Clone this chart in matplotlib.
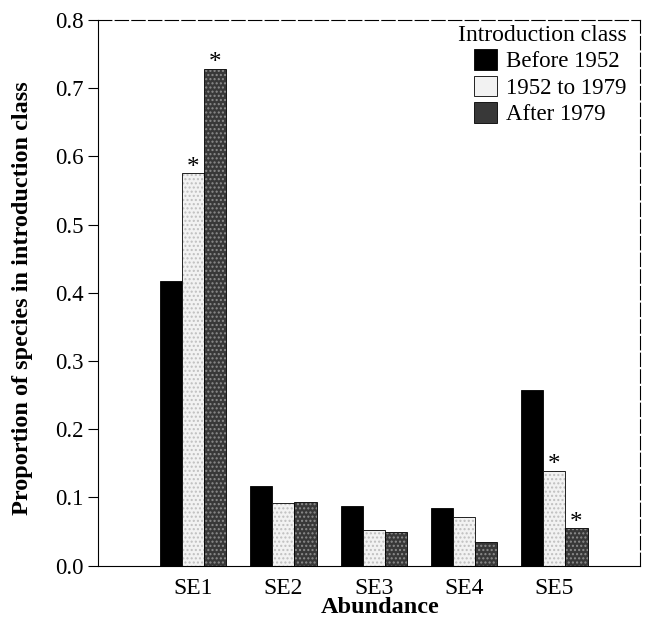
import numpy as np
import matplotlib
matplotlib.use("Agg")
import matplotlib.pyplot as plt
from matplotlib.patches import Patch

plt.rcParams['font.family'] = ['Liberation Serif', 'DejaVu Serif']

# data
categories = ['SE1', 'SE2', 'SE3', 'SE4', 'SE5']
classes = ['Before 1952', '1952 to 1979', 'After 1979']
before_1952 = [0.418, 0.117, 0.087, 0.084, 0.258]
from_1952_to_1979 = [0.575, 0.092, 0.052, 0.071, 0.139]
after_1979 = [0.728, 0.094, 0.049, 0.035, 0.055]
# asterisks (significant) per series
sig_1952_to_1979 = [True, False, False, False, True]
sig_after_1979 = [True, False, False, False, True]

fig = plt.figure(figsize=(6.46, 6.21), dpi=100)
ax = fig.add_axes([0.152, 0.089, 0.839, 0.879])

x = np.arange(len(categories))
w = 0.245
series = [before_1952, from_1952_to_1979, after_1979]
faces = ['black', '#f2f2f2', '#383838']
hatches = [None, '....', '....']
for i, (vals, fc, h) in enumerate(zip(series, faces, hatches)):
    bars = ax.bar(x + (i - 1) * w, vals, w, color=fc, edgecolor='black',
                  linewidth=0.6, hatch=h)
    if i == 1:
        for b in bars:
            b._hatch_color = (0.75, 0.75, 0.75, 1)
    if i == 2:
        for b in bars:
            b._hatch_color = (0.55, 0.55, 0.55, 1)

# significance stars
for i, sig in [(1, sig_1952_to_1979), (2, sig_after_1979)]:
    for j, s in enumerate(sig):
        if s:
            ax.text(x[j] + (i - 1) * w, series[i][j] - 0.008, '*',
                    ha='center', va='bottom', fontsize=18)

ax.set_xlim(-1.05, 4.95)
ax.set_ylim(0, 0.8)
ax.set_yticks(np.arange(0, 0.81, 0.1))
ax.set_yticklabels([f'{v:.1f}' for v in np.arange(0, 0.81, 0.1)], fontsize=16.5)
ax.set_xticks(x)
ax.set_xticklabels(categories, fontsize=17)
ax.tick_params(axis='x', length=0, pad=9)
ax.tick_params(axis='y', direction='out', length=7, width=0.8)

ax.set_xlabel('Abundance', fontsize=17.5, fontweight='bold', labelpad=0)
ax.xaxis.set_label_coords(0.52, -0.058)
ax.set_ylabel('Proportion of species in introduction class', fontsize=17.5,
              fontweight='bold')
ax.yaxis.set_label_coords(-0.12, 0.49)

for side in ['top', 'right']:
    ax.spines[side].set_linestyle((0, (12, 3)))
    ax.spines[side].set_linewidth(0.8)
for side in ['left', 'bottom']:
    ax.spines[side].set_linewidth(0.8)

handles = [Patch(facecolor=fc, edgecolor='black', linewidth=0.6, label=c)
           for fc, c in zip(faces, classes)]
leg = ax.legend(handles=handles, title='Introduction class', loc='upper right',
                bbox_to_anchor=(0.992, 1.008),
                frameon=False, fontsize=16.5, title_fontsize=17,
                handlelength=1.0, handleheight=1.0, handletextpad=0.4,
                labelspacing=0.15, borderaxespad=0.0)
leg._legend_box.align = 'right'

fig.savefig('out.png', dpi=100)
